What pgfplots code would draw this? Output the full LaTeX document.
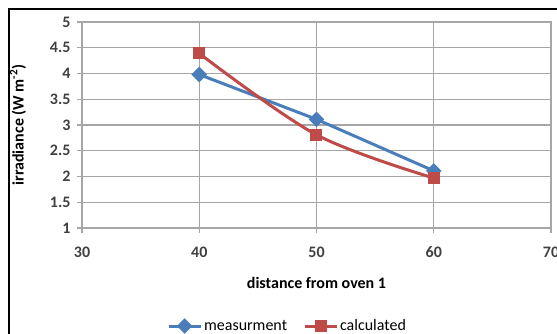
\documentclass[border=0pt]{standalone}
\usepackage{fontspec}
\setmainfont{Carlito}
\usepackage{pgfplots}
\pgfplotsset{compat=1.18}
\definecolor{ser1}{HTML}{4A7EBB}
\definecolor{ser2}{HTML}{BE4B48}
\definecolor{gridc}{HTML}{A6A6A6}
\begin{document}
\begin{tikzpicture}[x=1pt,y=1pt]
\useasboundingbox (0,0) rectangle (557,334);
\fill[white] (0,0) rectangle (557,334);
\begin{axis}[
  at={(82pt,106pt)}, anchor=south west,
  scale only axis, width=469pt, height=206pt,
  xmin=30, xmax=70, ymin=1, ymax=5,
  xtick={30,40,50,60,70},
  ytick={1,1.5,2,2.5,3,3.5,4,4.5,5},
  yticklabels={1,1.5,2,2.5,3,3.5,4,4.5,5},
  grid=major, grid style={gridc, line width=1.3pt},
  axis line style={gridc, line width=1.3pt},
  tick style={gridc, line width=1.3pt},
  tick align=outside, major tick length=5pt,
  xtick pos=left, ytick pos=left,
  /pgf/number format/assume math mode=true,
  tick label style={font=\fontsize{16}{18}\selectfont\bfseries, text=black!75},
  xticklabel style={yshift=-10pt},
  yticklabel style={xshift=-3pt},
  xlabel={distance from oven 1},
  ylabel={irradiance (W m\textsuperscript{-2})},
  label style={font=\fontsize{16}{18}\selectfont\bfseries, text=black},
  xlabel style={at={(rel axis cs:0.5,0)}, anchor=center, yshift=-55pt},
  ylabel style={at={(rel axis cs:0,0.5)}, anchor=center, yshift=64pt},
  legend columns=2,
  legend style={draw=none, fill=none, at={(rel axis cs:0.181,-0.476)}, anchor=west,
    inner sep=0pt, font=\fontsize{16}{18}\selectfont,
    /tikz/every even column/.append style={column sep=14pt}},
  legend cell align=left,
  legend image code/.code={
    \draw[mark repeat=2, mark phase=2, #1] plot coordinates {(0pt,0pt) (16pt,0pt) (32pt,0pt)};
  },
]
\addplot[ser1, line width=3pt, mark=square*, mark size=4pt, mark options={rotate=45, solid}]
  coordinates {(40,3.98) (50,3.11) (60,2.11)};
\addlegendentry{measurment}
\addplot[ser2, line width=3pt, smooth, tension=0.55, mark=square*, mark size=4.5pt, mark options={solid}]
  coordinates {(40,4.39) (50,2.81) (60,1.97)};
\addlegendentry{calculated}
\end{axis}
\draw[black, line width=2pt] (9,-5) -- (9,325) -- (570,325);
\end{tikzpicture}
\end{document}
